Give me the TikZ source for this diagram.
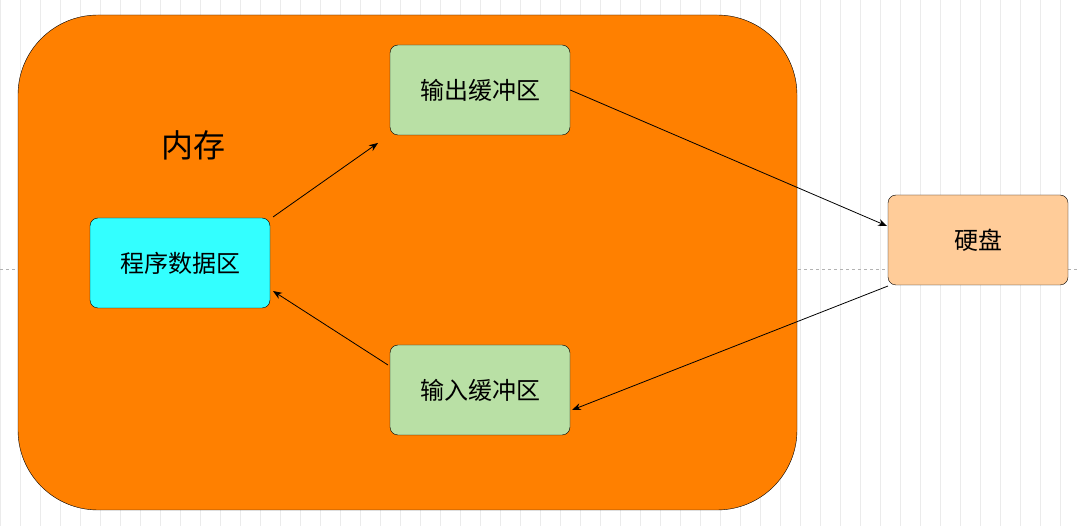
\documentclass[tikz,border=0pt]{standalone}
\usepackage{fontspec}
\newfontfamily\cjk{Noto Sans CJK SC}
\usetikzlibrary{arrows.meta}
\begin{document}
\begin{tikzpicture}[x=1pt,y=-1pt,
  box/.style={draw=black,rounded corners=8pt,minimum width=180pt,minimum height=90pt,font=\cjk\fontsize{24}{28}\selectfont,inner sep=0},
  arr/.style={-{Stealth[length=9pt,width=7pt]},line width=0.8pt}]
\useasboundingbox (0,0) rectangle (1080,526);
\fill[white] (0,0) rectangle (1080,526);
\draw[black!8,step=20] (0,0) grid (1080,526);
\draw[black!30,dashed] (0,269) -- (1080,269);
\draw[fill={rgb,255:red,255;green,128;blue,0},rounded corners=80pt] (18,15) rectangle (797,510);
\node[font=\cjk\fontsize{32}{36}\selectfont] (mem) at (193,145) {内存};
\node[box,fill={rgb,255:red,51;green,255;blue,255}] (prog) at (180,263) {程序数据区};
\node[box,fill={rgb,255:red,185;green,224;blue,165}] (out) at (480,90) {输出缓冲区};
\node[box,fill={rgb,255:red,185;green,224;blue,165}] (in) at (480,390) {输入缓冲区};
\node[box,fill={rgb,255:red,255;green,204;blue,153}] (disk) at (978,240) {硬盘};
\coordinate (p1) at (273,217); \coordinate (o1) at (378,143);
\coordinate (d1) at (887,226); \coordinate (d2) at (888,286);
\coordinate (i1) at (572,410); \coordinate (i2) at (388,365); \coordinate (p2) at (273,291);
\draw[arr] (p1) -- (o1);
\draw[arr] (out.east) -- (d1);
\draw[arr] (d2) -- (i1);
\draw[arr] (i2) -- (p2);
\end{tikzpicture}
\end{document}
